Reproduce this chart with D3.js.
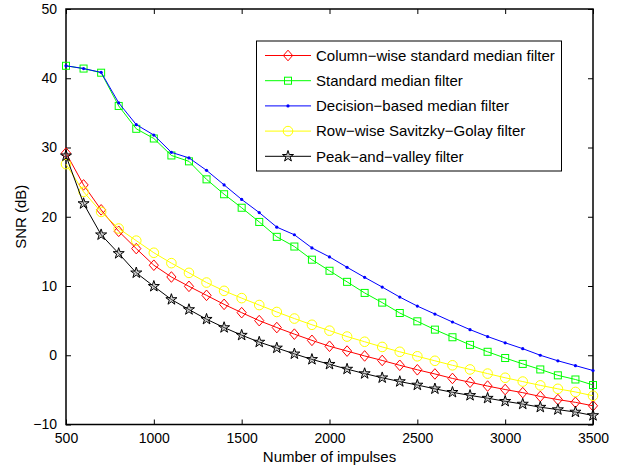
<!DOCTYPE html>
<html>
<head>
<meta charset="utf-8">
<script src="https://cdn.jsdelivr.net/npm/d3@7"></script>
<style>
  html, body { margin: 0; padding: 0; background: #fff; }
  svg text { font-family: "Liberation Sans", Arial, Helvetica, sans-serif; }
</style>
</head>
<body>
<svg id="chart" width="635" height="467"></svg>
<script>
// ---- data ----
const impulses = [500,600,700,800,900,1000,1100,1200,1300,1400,1500,1600,1700,1800,1900,2000,
  2100,2200,2300,2400,2500,2600,2700,2800,2900,3000,3100,3200,3300,3400,3500];

const columnWiseMedian = [29.2,24.6,21.0,17.9,15.4,13.0,11.3,9.95,8.65,7.35,6.15,5.0,4.0,3.05,2.15,1.3,
  0.6,-0.1,-0.75,-1.45,-2.1,-2.7,-3.35,-3.9,-4.45,-4.95,-5.4,-5.95,-6.4,-6.8,-7.3];
const standardMedian = [41.8,41.4,40.8,36.0,32.7,31.3,28.85,28.0,25.4,23.25,21.3,19.25,17.1,15.7,13.8,12.2,
  10.6,9.0,7.6,6.1,4.9,3.7,2.6,1.5,0.5,-0.4,-1.25,-2.05,-2.9,-3.5,-4.3];
const decisionMedian = [41.8,41.4,40.85,36.45,33.3,31.8,29.3,28.5,26.7,24.6,22.5,20.6,18.5,17.4,15.5,14.2,
  12.7,11.25,9.85,8.4,7.1,5.95,4.8,3.7,2.7,1.8,0.95,0.0,-0.8,-1.5,-2.2];
const rowWiseSG = [27.6,23.6,20.7,18.3,16.55,14.8,13.3,11.9,10.5,9.3,8.25,7.25,6.25,5.3,4.4,3.55,
  2.7,1.95,1.2,0.5,-0.15,-0.8,-1.45,-2.05,-2.65,-3.25,-3.8,-4.35,-4.85,-5.3,-5.85];
const peakValley = [28.8,21.9,17.4,14.7,11.9,9.95,8.05,6.6,5.2,4.0,2.9,1.9,1.05,0.2,-0.6,-1.3,
  -2.0,-2.65,-3.25,-3.8,-4.3,-4.85,-5.35,-5.8,-6.2,-6.65,-7.05,-7.5,-7.85,-8.2,-8.7];

const seriesNames = ["Column\u2212wise standard median filter","Standard median filter",
  "Decision\u2212based median filter","Row\u2212wise Savitzky\u2212Golay filter","Peak\u2212and\u2212valley filter"];
const seriesValues = [columnWiseMedian, standardMedian, decisionMedian, rowWiseSG, peakValley];
const seriesColors = ["#ff0000","#00ff00","#0000ff","#ffff00","#000000"];
const seriesMarkers = ["diamond","square","dot","circle","star"];

const xTicks = [500,1000,1500,2000,2500,3000,3500];
const yTicks = [-10,0,10,20,30,40,50];
const xLabel = "Number of impulses";
const yLabel = "SNR (dB)";

// ---- layout ----
const svg = d3.select("#chart");
const L = 66, R = 593, T = 9, B = 424.5;
const x = d3.scaleLinear().domain([500,3500]).range([L,R]);
const y = d3.scaleLinear().domain([-10,50]).range([B,T]);
const fmt = d => String(d).replace("-", "\u2212");

// axes (ticks inward, mirrored)
const tickLen = 5;
const gx = svg.append("g").attr("transform", `translate(0,${B})`)
  .call(d3.axisBottom(x).tickValues(xTicks).tickSizeInner(-tickLen).tickSizeOuter(0).tickPadding(9).tickFormat(fmt));
const gxt = svg.append("g").attr("transform", `translate(0,${T})`)
  .call(d3.axisTop(x).tickValues(xTicks).tickSizeInner(-tickLen).tickSizeOuter(0).tickFormat(""));
const gy = svg.append("g").attr("transform", `translate(${L},0)`)
  .call(d3.axisLeft(y).tickValues(yTicks).tickSizeInner(-tickLen).tickSizeOuter(0).tickPadding(9).tickFormat(fmt));
const gyr = svg.append("g").attr("transform", `translate(${R},0)`)
  .call(d3.axisRight(y).tickValues(yTicks).tickSizeInner(-tickLen).tickSizeOuter(0).tickFormat(""));
[gx,gxt,gy,gyr].forEach(g => {
  g.select(".domain").remove();
  g.selectAll(".tick line").attr("stroke","#000").attr("stroke-width",1);
  g.selectAll("text").attr("fill","#000").style("font-size","14px");
});
gx.selectAll("text").attr("dy","0.71em");

// box
svg.append("rect").attr("x",L).attr("y",T).attr("width",R-L).attr("height",B-T)
  .attr("fill","none").attr("stroke","#000").attr("stroke-width",1.5);

// labels
svg.append("text").attr("x",(L+R)/2).attr("y",462).attr("text-anchor","middle")
  .style("font-size","15px").attr("fill","#000").text(xLabel);
svg.append("text").attr("transform",`translate(26,${(T+B)/2}) rotate(-90)`).attr("text-anchor","middle")
  .style("font-size","15px").attr("fill","#000").text(yLabel);

// markers
function drawMarker(g, type, color, cx, cy) {
  if (type === "diamond") {
    g.append("path").attr("d", `M${cx},${cy-5.3}L${cx+4.6},${cy}L${cx},${cy+5.3}L${cx-4.6},${cy}Z`)
      .attr("fill","none").attr("stroke",color).attr("stroke-width",1);
  } else if (type === "square") {
    g.append("rect").attr("x",cx-3.5).attr("y",cy-3.5).attr("width",7).attr("height",7)
      .attr("fill","none").attr("stroke",color).attr("stroke-width",1);
  } else if (type === "dot") {
    g.append("circle").attr("cx",cx).attr("cy",cy).attr("r",1.6).attr("fill",color);
  } else if (type === "circle") {
    g.append("circle").attr("cx",cx).attr("cy",cy).attr("r",4.8)
      .attr("fill","none").attr("stroke",color).attr("stroke-width",1);
  } else if (type === "star") {
    g.append("path").attr("d", d3.symbol(d3.symbolStar, 38)())
      .attr("transform",`translate(${cx},${cy})`)
      .attr("fill","#888").attr("fill-opacity",0.35).attr("stroke",color).attr("stroke-width",1);
  }
}

const line = d3.line().x((d,i) => x(impulses[i])).y(d => y(d));
seriesValues.forEach((vals, k) => {
  const g = svg.append("g");
  g.append("path").datum(vals).attr("d", line).attr("fill","none")
    .attr("stroke", seriesColors[k]).attr("stroke-width",1);
  vals.forEach((v,i) => drawMarker(g, seriesMarkers[k], seriesColors[k], x(impulses[i]), y(v)));
});

// legend
const lg = svg.append("g");
lg.append("rect").attr("x",256.5).attr("y",41).attr("width",305).attr("height",130)
  .attr("fill","#fff").attr("stroke","#000").attr("stroke-width",1);
seriesNames.forEach((name,k) => {
  const ry = 55.5 + k*25.2;
  lg.append("line").attr("x1",265).attr("x2",311).attr("y1",ry).attr("y2",ry)
    .attr("stroke",seriesColors[k]).attr("stroke-width",1);
  drawMarker(lg, seriesMarkers[k], seriesColors[k], 288, ry);
  lg.append("text").attr("x",316).attr("y",ry).attr("dy","0.35em")
    .style("font-size","15px").attr("fill","#000").text(name);
});
</script>
</body>
</html>
